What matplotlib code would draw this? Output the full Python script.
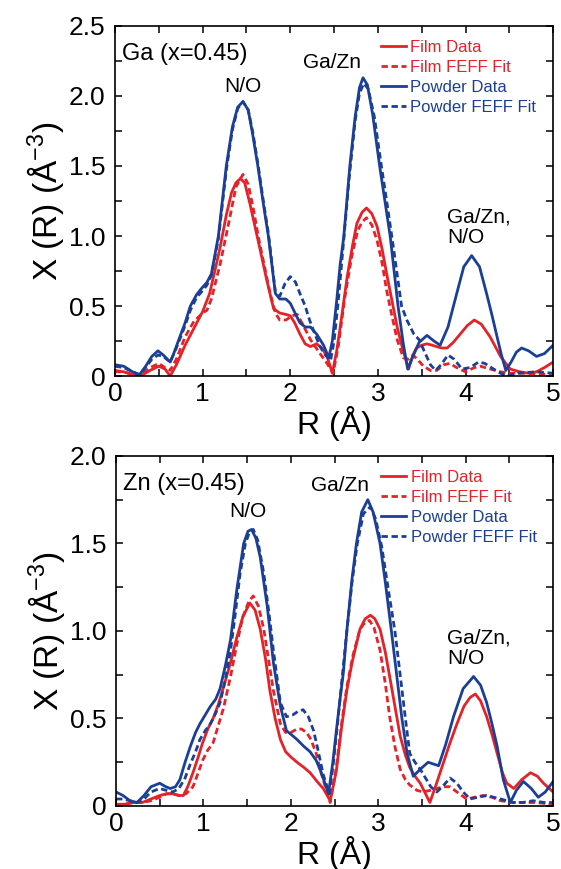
import numpy as np
import matplotlib
matplotlib.use("Agg")
from matplotlib import pyplot as plt
from matplotlib.ticker import MultipleLocator, FuncFormatter

plt.rcParams["font.family"] = ["Liberation Sans", "DejaVu Sans"]
plt.rcParams["mathtext.default"] = "regular"

RED = "#E42228"
BLUE = "#1B3F96"

# ---- Ga K-edge, x=0.45 ----
ga_film_r = [0.00, 0.10, 0.20, 0.29, 0.40, 0.50, 0.57, 0.63, 0.70, 0.80, 0.90, 1.00, 1.08, 1.15, 1.20,
             1.27, 1.33, 1.38, 1.43, 1.48, 1.54, 1.60, 1.65, 1.73, 1.81, 1.88, 1.95, 2.00, 2.05, 2.11,
             2.17, 2.23, 2.30, 2.36, 2.42, 2.48, 2.53, 2.57, 2.65, 2.71, 2.76, 2.82, 2.87, 2.93, 2.99,
             3.05, 3.10, 3.16, 3.22, 3.28, 3.35, 3.40, 3.44, 3.50, 3.56, 3.62, 3.67, 3.73, 3.79, 3.86,
             3.94, 4.02, 4.10, 4.18, 4.28, 4.34, 4.40, 4.46, 4.51, 4.62, 4.72, 4.81, 4.90, 5.00]
ga_film = [0.04, 0.03, 0.01, 0.00, 0.04, 0.07, 0.05, 0.00, 0.08, 0.22, 0.34, 0.46, 0.59, 0.78, 0.92,
           1.15, 1.31, 1.38, 1.41, 1.38, 1.23, 1.06, 0.92, 0.69, 0.48, 0.45, 0.44, 0.43, 0.38, 0.30,
           0.23, 0.21, 0.23, 0.20, 0.14, 0.02, 0.18, 0.35, 0.71, 0.93, 1.09, 1.17, 1.20, 1.16, 1.07,
           0.90, 0.73, 0.54, 0.35, 0.20, 0.05, 0.15, 0.20, 0.22, 0.23, 0.22, 0.21, 0.20, 0.20, 0.24,
           0.30, 0.36, 0.40, 0.37, 0.28, 0.21, 0.14, 0.09, 0.05, 0.03, 0.02, 0.03, 0.06, 0.10]

ga_film_fit_r = [0.00, 0.10, 0.20, 0.29, 0.40, 0.50, 0.57, 0.63, 0.70, 0.80, 0.90, 1.00, 1.05, 1.10, 1.20,
                 1.30, 1.38, 1.46, 1.52, 1.58, 1.64, 1.69, 1.77, 1.83, 1.88, 1.95, 2.02, 2.08, 2.15, 2.23,
                 2.34, 2.42, 2.49, 2.55, 2.62, 2.70, 2.77, 2.82, 2.87, 2.93, 2.99, 3.05, 3.10, 3.16, 3.22,
                 3.29, 3.35, 3.40, 3.45, 3.52, 3.60, 3.67, 3.75, 3.82, 3.90, 4.00, 4.10, 4.17, 4.28, 4.40,
                 4.50, 4.70, 4.85, 5.00]
ga_film_fit = [0.03, 0.03, 0.01, 0.00, 0.06, 0.09, 0.06, 0.04, 0.12, 0.28, 0.39, 0.45, 0.47, 0.55, 0.80,
               1.10, 1.35, 1.44, 1.37, 1.19, 0.98, 0.83, 0.59, 0.45, 0.40, 0.40, 0.43, 0.44, 0.36, 0.26,
               0.16, 0.09, 0.02, 0.22, 0.55, 0.85, 1.04, 1.10, 1.13, 1.08, 0.97, 0.80, 0.61, 0.43, 0.26,
               0.13, 0.12, 0.15, 0.12, 0.07, 0.04, 0.04, 0.08, 0.09, 0.06, 0.03, 0.06, 0.07, 0.05, 0.03,
               0.02, 0.02, 0.01, 0.02]

ga_powder_r = [0.00, 0.10, 0.20, 0.28, 0.35, 0.42, 0.49, 0.55, 0.63, 0.67, 0.74, 0.80, 0.86, 0.93, 0.98,
               1.05, 1.10, 1.18, 1.27, 1.34, 1.40, 1.46, 1.52, 1.57, 1.63, 1.70, 1.75, 1.83, 1.88, 1.95,
               2.00, 2.07, 2.11, 2.17, 2.23, 2.30, 2.38, 2.44, 2.48, 2.53, 2.57, 2.61, 2.68, 2.74, 2.79,
               2.83, 2.88, 2.94, 3.02, 3.08, 3.14, 3.23, 3.29, 3.34, 3.40, 3.47, 3.56, 3.64, 3.71, 3.80,
               3.90, 3.98, 4.07, 4.16, 4.24, 4.30, 4.36, 4.41, 4.46, 4.52, 4.58, 4.64, 4.72, 4.81, 4.90,
               5.00]
ga_powder = [0.08, 0.07, 0.03, 0.01, 0.07, 0.14, 0.18, 0.15, 0.10, 0.16, 0.28, 0.38, 0.50, 0.58, 0.62,
             0.67, 0.73, 1.00, 1.50, 1.78, 1.92, 1.96, 1.90, 1.73, 1.50, 1.20, 1.00, 0.59, 0.55, 0.55,
             0.52, 0.43, 0.38, 0.35, 0.35, 0.30, 0.22, 0.13, 0.25, 0.54, 0.80, 0.99, 1.50, 1.85, 2.06,
             2.13, 2.08, 1.87, 1.50, 1.25, 1.00, 0.50, 0.23, 0.05, 0.14, 0.24, 0.29, 0.25, 0.22, 0.35,
             0.59, 0.78, 0.86, 0.78, 0.59, 0.44, 0.28, 0.15, 0.04, 0.10, 0.17, 0.20, 0.18, 0.14, 0.16,
             0.22]

ga_powder_fit_r = [0.00, 0.10, 0.20, 0.28, 0.35, 0.42, 0.49, 0.55, 0.63, 0.70, 0.80, 0.86, 0.93, 1.00, 1.05,
                   1.10, 1.18, 1.27, 1.34, 1.40, 1.46, 1.52, 1.57, 1.63, 1.70, 1.75, 1.83, 1.88, 1.94, 2.00,
                   2.06, 2.11, 2.17, 2.22, 2.28, 2.34, 2.40, 2.46, 2.50, 2.55, 2.60, 2.67, 2.74, 2.79, 2.84,
                   2.89, 2.96, 3.04, 3.10, 3.17, 3.27, 3.33, 3.41, 3.47, 3.52, 3.60, 3.66, 3.72, 3.80, 3.87,
                   3.96, 4.05, 4.15, 4.22, 4.32, 4.40, 4.47, 4.60, 4.80, 5.00]
ga_powder_fit = [0.07, 0.06, 0.03, 0.01, 0.06, 0.12, 0.15, 0.14, 0.10, 0.20, 0.36, 0.47, 0.56, 0.61, 0.65,
                 0.72, 0.98, 1.47, 1.76, 1.91, 1.96, 1.90, 1.75, 1.52, 1.22, 1.02, 0.60, 0.57, 0.66, 0.71,
                 0.67, 0.59, 0.50, 0.40, 0.30, 0.21, 0.15, 0.11, 0.25, 0.55, 0.90, 1.40, 1.82, 2.02, 2.09,
                 2.05, 1.85, 1.50, 1.25, 0.95, 0.50, 0.40, 0.30, 0.26, 0.19, 0.08, 0.04, 0.08, 0.15, 0.12,
                 0.05, 0.06, 0.10, 0.09, 0.05, 0.02, 0.00, 0.02, 0.03, 0.02]

# ---- Zn K-edge, x=0.45 ----
zn_film_r = [0.00, 0.10, 0.20, 0.30, 0.40, 0.50, 0.58, 0.65, 0.72, 0.77, 0.82, 0.88, 0.94, 0.99, 1.05,
             1.11, 1.17, 1.23, 1.31, 1.38, 1.45, 1.53, 1.59, 1.65, 1.71, 1.76, 1.82, 1.88, 1.94, 2.00,
             2.07, 2.15, 2.22, 2.30, 2.37, 2.45, 2.52, 2.58, 2.64, 2.70, 2.79, 2.85, 2.91, 2.96, 3.02,
             3.08, 3.13, 3.19, 3.25, 3.31, 3.36, 3.42, 3.48, 3.54, 3.59, 3.66, 3.74, 3.82, 3.90, 3.98,
             4.05, 4.11, 4.17, 4.24, 4.30, 4.36, 4.42, 4.47, 4.55, 4.64, 4.74, 4.82, 4.89, 5.00]
zn_film = [0.01, 0.01, 0.02, 0.02, 0.04, 0.06, 0.07, 0.07, 0.06, 0.06, 0.11, 0.19, 0.28, 0.36, 0.44,
           0.50, 0.58, 0.68, 0.82, 0.96, 1.08, 1.16, 1.12, 1.01, 0.84, 0.66, 0.50, 0.38, 0.31, 0.28,
           0.25, 0.22, 0.19, 0.14, 0.10, 0.03, 0.20, 0.45, 0.66, 0.82, 1.01, 1.07, 1.09, 1.07, 1.01,
           0.88, 0.74, 0.57, 0.40, 0.29, 0.22, 0.17, 0.13, 0.07, 0.02, 0.12, 0.24, 0.36, 0.47, 0.57,
           0.62, 0.64, 0.60, 0.51, 0.41, 0.30, 0.19, 0.13, 0.10, 0.15, 0.19, 0.17, 0.13, 0.08]

zn_film_fit_r = [0.00, 0.10, 0.20, 0.30, 0.40, 0.50, 0.58, 0.65, 0.72, 0.80, 0.88, 0.94, 0.99, 1.05, 1.11,
                 1.17, 1.23, 1.31, 1.38, 1.45, 1.52, 1.57, 1.63, 1.69, 1.75, 1.80, 1.88, 1.94, 2.00, 2.07,
                 2.12, 2.18, 2.23, 2.29, 2.34, 2.40, 2.45, 2.52, 2.58, 2.64, 2.71, 2.79, 2.85, 2.90, 2.95,
                 3.02, 3.08, 3.13, 3.19, 3.25, 3.31, 3.36, 3.44, 3.51, 3.60, 3.67, 3.75, 3.82, 3.90, 4.01,
                 4.10, 4.20, 4.30, 4.40, 4.55, 4.80, 5.00]
zn_film_fit = [0.00, 0.01, 0.02, 0.02, 0.03, 0.05, 0.07, 0.07, 0.06, 0.07, 0.11, 0.19, 0.26, 0.32, 0.36,
               0.46, 0.56, 0.74, 0.92, 1.08, 1.17, 1.20, 1.14, 1.01, 0.82, 0.66, 0.47, 0.42, 0.42, 0.44,
               0.44, 0.42, 0.38, 0.30, 0.20, 0.10, 0.02, 0.22, 0.47, 0.68, 0.86, 1.01, 1.05, 1.06, 1.02,
               0.89, 0.70, 0.51, 0.34, 0.21, 0.15, 0.12, 0.09, 0.08, 0.09, 0.10, 0.11, 0.11, 0.08, 0.04,
               0.05, 0.06, 0.05, 0.03, 0.02, 0.02, 0.01]

zn_powder_r = [0.00, 0.08, 0.16, 0.24, 0.32, 0.40, 0.50, 0.57, 0.62, 0.68, 0.73, 0.79, 0.85, 0.91, 0.96,
               1.02, 1.08, 1.14, 1.19, 1.25, 1.31, 1.38, 1.46, 1.51, 1.55, 1.60, 1.65, 1.73, 1.80, 1.88,
               1.95, 2.00, 2.07, 2.15, 2.22, 2.29, 2.34, 2.39, 2.43, 2.48, 2.52, 2.56, 2.60, 2.64, 2.70,
               2.75, 2.81, 2.88, 2.94, 3.02, 3.08, 3.15, 3.21, 3.27, 3.33, 3.40, 3.48, 3.57, 3.63, 3.69,
               3.77, 3.86, 3.97, 4.09, 4.17, 4.24, 4.30, 4.36, 4.43, 4.51, 4.58, 4.66, 4.75, 4.83, 4.91,
               5.00]
zn_powder = [0.08, 0.06, 0.03, 0.02, 0.06, 0.11, 0.13, 0.11, 0.10, 0.11, 0.15, 0.25, 0.34, 0.42, 0.47,
             0.52, 0.57, 0.61, 0.67, 0.80, 0.95, 1.23, 1.50, 1.57, 1.58, 1.53, 1.42, 1.14, 0.82, 0.57,
             0.43, 0.41, 0.38, 0.34, 0.31, 0.26, 0.20, 0.13, 0.07, 0.25, 0.43, 0.60, 0.76, 1.00, 1.30,
             1.50, 1.68, 1.75, 1.68, 1.50, 1.28, 1.00, 0.75, 0.50, 0.30, 0.17, 0.21, 0.25, 0.24, 0.23,
             0.35, 0.51, 0.67, 0.74, 0.69, 0.59, 0.47, 0.34, 0.15, 0.02, 0.09, 0.14, 0.10, 0.05, 0.08,
             0.14]

zn_powder_fit_r = [0.00, 0.08, 0.16, 0.24, 0.32, 0.40, 0.50, 0.57, 0.65, 0.72, 0.79, 0.85, 0.91, 0.96, 1.02,
                   1.08, 1.14, 1.19, 1.25, 1.31, 1.36, 1.42, 1.48, 1.53, 1.57, 1.62, 1.69, 1.75, 1.80, 1.88,
                   1.95, 2.02, 2.08, 2.14, 2.20, 2.26, 2.31, 2.37, 2.44, 2.48, 2.53, 2.58, 2.63, 2.70, 2.76,
                   2.83, 2.91, 2.97, 3.04, 3.12, 3.19, 3.25, 3.31, 3.36, 3.42, 3.48, 3.54, 3.60, 3.67, 3.75,
                   3.82, 3.90, 3.97, 4.05, 4.14, 4.24, 4.32, 4.40, 4.54, 4.65, 4.77, 4.90, 5.00]
zn_powder_fit = [0.04, 0.04, 0.03, 0.02, 0.04, 0.08, 0.10, 0.09, 0.08, 0.10, 0.16, 0.24, 0.31, 0.38, 0.43,
                 0.47, 0.53, 0.59, 0.72, 0.89, 1.08, 1.33, 1.50, 1.57, 1.58, 1.52, 1.33, 1.10, 0.89, 0.59,
                 0.51, 0.52, 0.54, 0.55, 0.51, 0.43, 0.32, 0.18, 0.07, 0.22, 0.45, 0.70, 0.95, 1.28, 1.50,
                 1.67, 1.71, 1.64, 1.48, 1.22, 1.00, 0.75, 0.50, 0.30, 0.25, 0.21, 0.16, 0.11, 0.08, 0.12,
                 0.16, 0.13, 0.08, 0.04, 0.05, 0.06, 0.05, 0.04, 0.02, 0.02, 0.03, 0.02, 0.02]

panels = [
    {"title": "Ga (x=0.45)", "ymax": 2.5, "rect": [0.205, 0.5673, 0.781, 0.4028],
     "series": [(ga_film_r, ga_film), (ga_film_fit_r, ga_film_fit),
                (ga_powder_r, ga_powder), (ga_powder_fit_r, ga_powder_fit)],
     "notes": [(1.46, 2.07, "N/O", "center"), (2.48, 2.24, "Ga/Zn", "center"),
               (3.79, 1.06, "Ga/Zn,\nN/O", "left")]},
    {"title": "Zn (x=0.45)", "ymax": 2.0, "rect": [0.2068, 0.0725, 0.7792, 0.4028],
     "series": [(zn_film_r, zn_film), (zn_film_fit_r, zn_film_fit),
                (zn_powder_r, zn_powder), (zn_powder_fit_r, zn_powder_fit)],
     "notes": [(1.51, 1.68, "N/O", "center"), (2.56, 1.83, "Ga/Zn", "center"),
               (3.79, 0.90, "Ga/Zn,\nN/O", "left")]},
]

labels = ["Film Data", "Film FEFF Fit", "Powder Data", "Powder FEFF Fit"]
styles = [(RED, "-"), (RED, "--"), (BLUE, "-"), (BLUE, "--")]

fig = plt.figure(figsize=(5.61, 8.69), dpi=100)

for p in panels:
    ax = fig.add_axes(p["rect"])
    for (r, y), lab, (c, ls) in zip(p["series"], labels, styles):
        line, = ax.plot(r, y, color=c, lw=2.0, label=lab, solid_joinstyle="round")
        if ls == "--":
            line.set_dashes((2.3, 1.3))

    ax.set_xlim(0, 5)
    ax.set_ylim(0, p["ymax"])
    ax.xaxis.set_major_locator(MultipleLocator(1))
    ax.xaxis.set_minor_locator(MultipleLocator(0.5))
    ax.yaxis.set_major_locator(MultipleLocator(0.5))
    ax.yaxis.set_minor_locator(MultipleLocator(0.25))
    ax.yaxis.set_major_formatter(FuncFormatter(lambda v, pos: "0" if v == 0 else "%.1f" % v))
    ax.tick_params(which="both", direction="in", top=True, right=True,
                   length=5, width=1.1, labelsize=19)
    ax.tick_params(axis="y", pad=7)
    ax.tick_params(axis="x", pad=4)
    for s in ax.spines.values():
        s.set_linewidth(1.2)

    ax.set_xlabel("R (Å)", fontsize=23, labelpad=0)
    ax.set_ylabel("X (R) (Å$^{-3}$)", fontsize=24, labelpad=2)

    ax.text(0.016, 0.95, p["title"], transform=ax.transAxes, fontsize=17,
            ha="left", va="top")
    for x, y, t, ha in p["notes"]:
        ax.text(x, y, t, fontsize=15, ha=ha, va="center", linespacing=1.1)

    leg = ax.legend(loc="upper right", bbox_to_anchor=(0.962, 0.96), frameon=False,
                    fontsize=12, handlelength=1.5, handletextpad=0.25,
                    labelspacing=0.3, borderpad=0, borderaxespad=0)
    for txt, (c, _) in zip(leg.get_texts(), styles):
        txt.set_color(c)

fig.savefig("out.png", dpi=100)
